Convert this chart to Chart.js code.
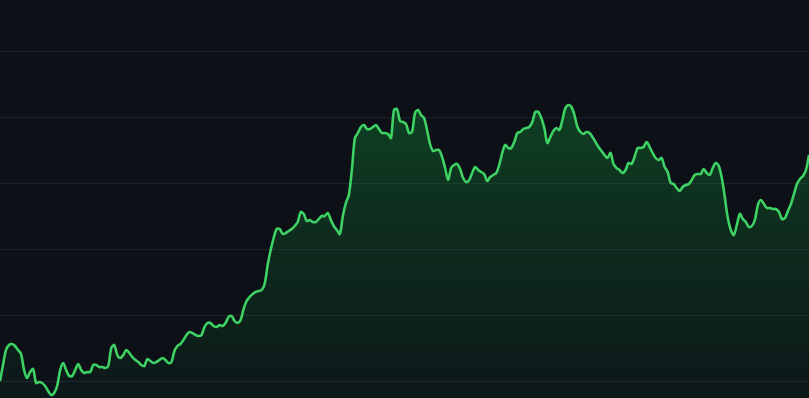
<!DOCTYPE html>
<html>
<head>
<meta charset="utf-8">
<script src="https://cdn.jsdelivr.net/npm/chart.js@4/dist/chart.umd.min.js"></script>
<style>
html,body{margin:0;padding:0;background:#0d1117;overflow:hidden;}
#wrap{width:809px;height:398px;position:relative;}
</style>
</head>
<body>
<div id="wrap"><canvas id="c" width="809" height="398"></canvas></div>
<script>
// series values (arbitrary price units), one per session
const values = [
19,35,50,55,56,54,50,46,30,22,28,31,17,18,17,14,9,5,7,14,
30,37,30,24,24,30,36,30,27,28,28,35,35,33,33,32,34,52,55,45,
42,45,50,47,43,40,38,35,34,41,39,37,38,40,42,40,37,38,49,54,
56,60,65,68,67,65,64,65,73,77,77,74,73,75,74,77,83,84,79,77,
80,91,99,103,106,108,109,110,116,135,150,162,171,171,166,167,169,171,174,178,
188,186,179,180,178,178,181,184,184,187,180,174,170,166,184,197,205,230,262,267,
273,275,271,271,273,275,271,267,267,266,262,290,291,279,278,276,267,268,287,290,
285,282,270,256,249,250,250,243,232,220,232,235,236,231,222,218,220,227,233,230,
228,226,219,223,225,227,235,247,255,252,252,258,267,268,271,272,273,278,288,288,
282,272,257,263,269,272,270,280,292,295,293,285,273,268,266,268,267,263,258,253,
249,245,242,247,236,232,230,227,230,237,236,243,252,252,253,258,253,247,242,240,
242,233,228,217,216,212,209,213,215,216,220,225,226,226,231,227,225,232,237,234,
222,203,182,170,165,175,186,181,178,173,174,180,195,200,196,192,192,191,191,188,
181,182,189,196,206,216,221,224,230,245
];
// categories: session index
const sessions = values.map((_, i) => 'D' + (i + 1));
// horizontal grid levels
const gridLevels = [19, 85, 151, 217, 283, 349];
const yMin = 2, yMax = 400;

const ctx = document.getElementById('c').getContext('2d');
new Chart(ctx, {
  type: 'line',
  data: {
    labels: sessions,
    datasets: [{
      data: values,
      borderColor: '#3ed163',
      borderWidth: 2.6,
      pointRadius: 0,
      tension: 0.3,
      fill: 'start',
      backgroundColor: (c) => {
        const ch = c.chart;
        const a = ch.chartArea;
        if (!a) return 'rgba(30,160,70,0.2)';
        const g = ch.ctx.createLinearGradient(0, a.top, 0, a.bottom);
        g.addColorStop(0, 'rgba(20,155,60,0.47)');
        g.addColorStop(0.5, 'rgba(20,155,60,0.23)');
        g.addColorStop(1, 'rgba(20,155,60,0.05)');
        return g;
      }
    }]
  },
  options: {
    responsive: false,
    animation: false,
    layout: { padding: 0 },
    plugins: { legend: { display: false }, tooltip: { enabled: false } },
    scales: {
      x: { display: false, offset: false },
      y: {
        min: yMin, max: yMax,
        afterBuildTicks: (s) => { s.ticks = gridLevels.map(v => ({ value: v })); },
        ticks: { display: false },
        border: { display: false },
        grid: { color: 'rgba(110,120,150,0.16)', drawTicks: false, lineWidth: 1 }
      }
    }
  }
});
</script>
</body>
</html>
